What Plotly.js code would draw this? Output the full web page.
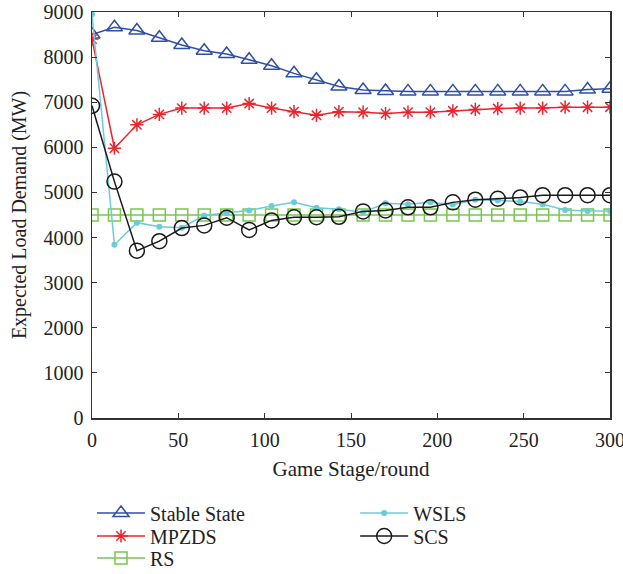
<!DOCTYPE html>
<html>
<head>
<meta charset="utf-8">
<script src="https://cdn.plot.ly/plotly-3.0.1.min.js"></script>
<style>html,body{margin:0;padding:0;background:#fff;}#chart{width:623px;height:574px;}</style>
</head>
<body>
<div id="chart"></div>
<script>
const rounds = [0,13,26,39,52,65,78,91,104,117,130,143,157,170,183,196,209,222,235,248,261,274,287,300];
const stableState = [8500,8660,8590,8430,8270,8140,8070,7940,7810,7640,7500,7350,7270,7250,7240,7240,7240,7240,7240,7240,7240,7240,7280,7300];
const mpzds = [8400,5980,6500,6730,6870,6870,6870,6970,6870,6790,6710,6790,6780,6750,6780,6780,6810,6840,6860,6870,6870,6890,6890,6890];
const rs = [4500,4500,4500,4500,4500,4500,4500,4500,4500,4500,4500,4500,4500,4500,4500,4500,4500,4500,4500,4500,4500,4500,4500,4500];
const wsls = [8950,3840,4330,4240,4220,4490,4550,4600,4700,4780,4660,4630,4560,4760,4740,4780,4730,4840,4820,4800,4740,4610,4590,4590];
const scs = [6920,5240,3710,3920,4210,4270,4440,4170,4380,4450,4450,4460,4580,4600,4670,4670,4780,4840,4860,4890,4940,4940,4940,4940];

const serif = "Liberation Serif, DejaVu Serif, serif";
const traces = [
  {x: rounds, y: stableState, name: 'Stable State', mode: 'lines+markers', legend: 'legend',
   line: {color: '#2f4ea6', width: 1.5}, marker: {symbol: 'triangle-up-open', size: 14, color: '#2f4ea6', line: {width: 1.5}}},
  {x: rounds, y: mpzds, name: 'MPZDS', mode: 'lines+markers', legend: 'legend2',
   line: {color: '#e8262d', width: 1.5}, marker: {symbol: 'asterisk-open', size: 11, color: '#e8262d', line: {width: 1.5, color: '#e8262d'}}},
  {x: rounds, y: rs, name: 'RS', mode: 'lines+markers', legend: 'legend3',
   line: {color: '#78c64e', width: 1.5}, marker: {symbol: 'square-open', size: 12, color: '#78c64e', line: {width: 1.5}}},
  {x: rounds, y: wsls, name: 'WSLS', mode: 'lines+markers', legend: 'legend4',
   line: {color: '#6ccbdb', width: 1.5}, marker: {symbol: 'circle', size: 6, color: '#6ccbdb'}},
  {x: rounds, y: scs, name: 'SCS', mode: 'lines+markers', legend: 'legend5',
   line: {color: '#1a1a1a', width: 1.5}, marker: {symbol: 'circle-open', size: 15, color: '#1a1a1a', line: {width: 1.5}}}
];

const axisCommon = {
  showgrid: false, zeroline: false, showline: true, linecolor: '#333', linewidth: 1.5,
  mirror: 'ticks', ticks: 'inside', ticklen: 5, tickcolor: '#333', ticklabeloverflow: 'allow',
  tickfont: {family: serif, size: 20, color: '#222'}
};

const legendFont = {family: serif, size: 20, color: '#222'};
function leg(x, y) {
  return {x: x, y: y, xanchor: 'left', yanchor: 'top', orientation: 'v', itemwidth: 48,
    font: legendFont, bgcolor: 'rgba(0,0,0,0)', borderwidth: 0};
}

const layout = {
  width: 623, height: 574,
  margin: {l: 92, r: 13, t: 12, b: 156, autoexpand: false},
  paper_bgcolor: '#fff', plot_bgcolor: '#fff',
  font: {family: serif, color: '#222'},
  showlegend: true,
  xaxis: Object.assign({}, axisCommon, {
    range: [0, 300], tickvals: [0,50,100,150,200,250,300], automargin: false, ticklabelstandoff: 3,
    title: {text: 'Game Stage/round', font: {family: serif, size: 21, color: '#222'}, standoff: 12}
  }),
  yaxis: Object.assign({}, axisCommon, {
    range: [0, 9000], tickvals: [0,1000,2000,3000,4000,5000,6000,7000,8000,9000], automargin: false, ticklabelstandoff: 3,
    title: {text: 'Expected Load Demand (MW)', font: {family: serif, size: 20, color: '#222'}, standoff: 11}
  }),
  legend: leg(0.0, -0.186),
  legend2: leg(0.0, -0.2426),
  legend3: leg(0.0, -0.2968),
  legend4: leg(0.508, -0.186),
  legend5: leg(0.508, -0.2426)
};

Plotly.newPlot('chart', traces, layout, {displayModeBar: false, staticPlot: true});
</script>
</body>
</html>
